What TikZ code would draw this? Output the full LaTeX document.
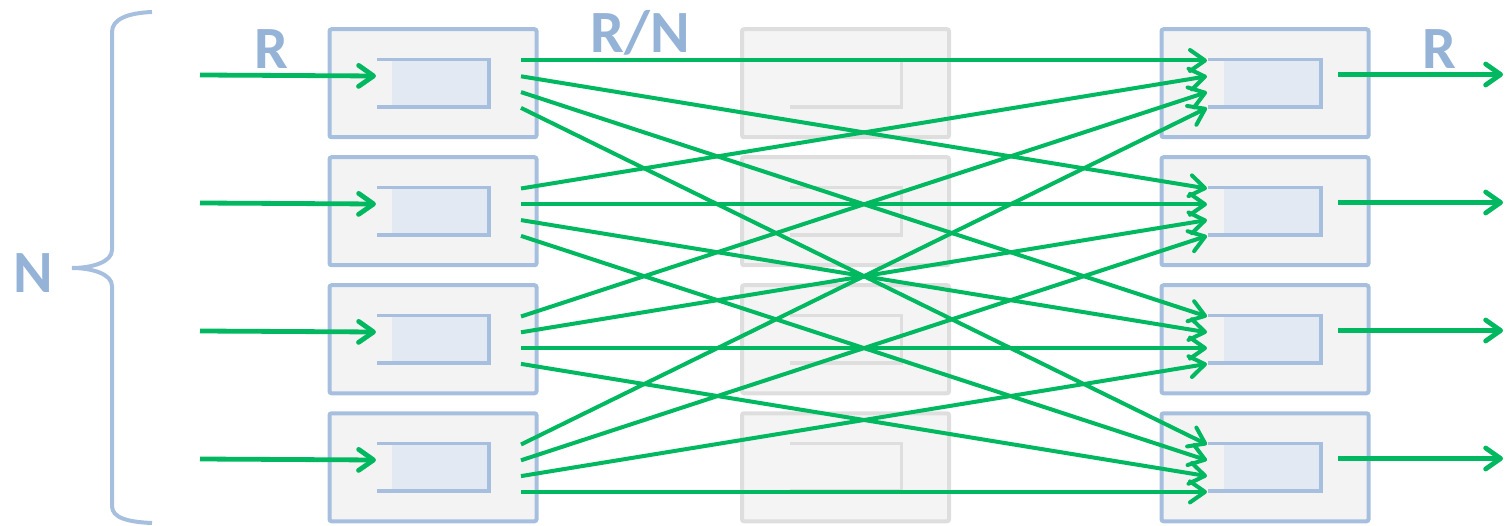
\documentclass[tikz,border=0pt]{standalone}
\usepackage{fontspec}
\setmainfont{Carlito}
\newfontfamily\labelfont{Carlito Bold}
\usetikzlibrary{arrows.meta,calc}
\definecolor{boxblue}{HTML}{A7BFDE}
\definecolor{boxfill}{HTML}{F3F3F3}
\definecolor{buffill}{HTML}{E2E9F3}
\definecolor{fadeline}{HTML}{DEDEDE}
\definecolor{fadefill}{HTML}{F4F4F4}
\definecolor{link}{HTML}{00B85F}
\definecolor{labelblue}{HTML}{95B3D7}

\begin{document}
\begin{tikzpicture}[x=1pt,y=-1pt,
  portbox/.style={draw=boxblue,fill=boxfill,line width=4pt,rounded corners=2pt,
    minimum width=207pt,minimum height=108pt,inner sep=0pt,outer sep=0pt},
  fadebox/.style={portbox,draw=fadeline,fill=fadefill},
  bufbox/.style={fill=buffill,minimum width=97pt,minimum height=47.5pt,inner sep=0pt,outer sep=0pt},
  fadebuf/.style={bufbox,fill=none},
  bracket/.style={draw=boxblue,line width=3.5pt},
  fadebracket/.style={draw=fadeline,line width=3.5pt},
  wire/.style={draw=link,line width=4pt,-{Straight Barb[length=15pt,width=21pt,round]}},
  feed/.style={wire,line width=4.8pt},
  lbl/.style={text=labelblue,font=\labelfont\fontsize{60}{60}\selectfont,inner sep=0pt,anchor=base},
]
\useasboundingbox (0,0) rectangle (1506,526);

% faded middle column
\foreach \r in {0,...,3} {
  \node[fadebox] (m\r) at (845.5,{83.25+128*\r}) {};
  \node[fadebuf] (mb\r) at (853,{83.25+128*\r}) {};
  \draw[fadebracket] ($(mb\r.north west)+(-15,0)$) -- (mb\r.north east)
    -- (mb\r.south east) -- ($(mb\r.south west)+(-15,0)$);
}

% input and output ports with their buffers
\foreach \r in {0,...,3} {
  \node[portbox] (L\r) at (433,{83.25+128*\r}) {};
  \node[bufbox] (lb\r) at (440.5,{83.25+128*\r}) {};
  \draw[bracket] ($(lb\r.north west)+(-15,0)$) -- (lb\r.north east)
    -- (lb\r.south east) -- ($(lb\r.south west)+(-15,0)$);
  \node[portbox] (R\r) at (1265,{83.25+128*\r}) {};
  \node[bufbox] (rb\r) at (1272.5,{83.25+128*\r}) {};
  \draw[bracket] ($(rb\r.north west)+(-16,0)$) -- (rb\r.north east)
    -- (rb\r.south east) -- ($(rb\r.south west)+(-16,0)$);
}

% line endpoints
\foreach \i in {0,...,3} {
  \coordinate (src\i) at (200,{75+128*\i});
  \coordinate (in\i) at (376,{76+128*\i});
  \coordinate (out\i) at (1338,{74.5+128*\i});
  \coordinate (sink\i) at (1503,{74.5+128*\i});
  \foreach \j in {0,...,3} {
    \coordinate (lp\i\j) at (521,{60.5+128*\i+15.8*\j});
    \coordinate (rp\i\j) at (1207,{60.5+128*\i+15.8*\j});
  }
}

% full mesh between the two columns
\foreach \i in {0,...,3} {
  \foreach \j in {0,...,3} {
    \draw[wire] (lp\i\j) -- (rp\j\i);
  }
}

% external links
\foreach \i in {0,...,3} {
  \draw[feed] (src\i) -- (in\i);
  \draw[feed] (out\i) -- (sink\i);
}

% labels
\node[lbl] (rateL) at (271,69) {R};
\node[lbl] (rateM) at (640,53) {R/N};
\node[lbl] (rateR) at (1439,69) {R};
\node[lbl] (count) at (33,293) {N};

% brace spanning the rows
\draw[boxblue,line width=4pt]
  (152,12) .. controls (128,13) and (112,19) .. (112,32)
  -- (112,250) .. controls (112,262) and (92,268) .. (72,268)
  .. controls (92,268) and (112,274) .. (112,286)
  -- (112,506) .. controls (112,518) and (128,522) .. (152,523);
\end{tikzpicture}
\end{document}
